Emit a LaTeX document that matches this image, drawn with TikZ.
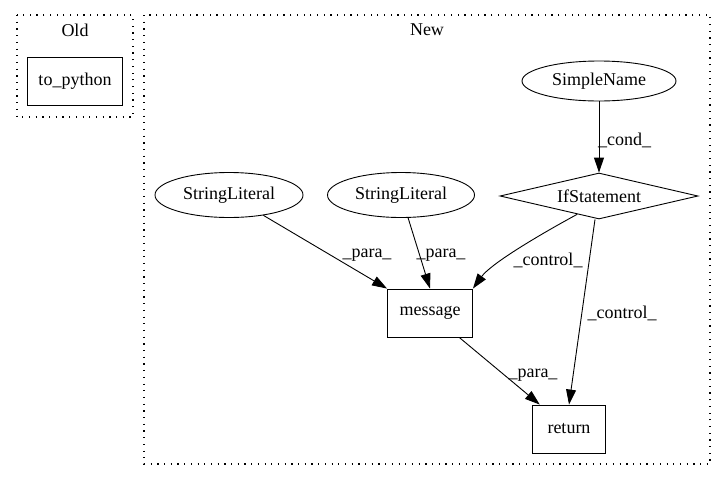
\documentclass[tikz,border=0pt]{standalone}
\usepackage{fontspec}
\setmainfont{Liberation Serif}
\usetikzlibrary{shapes.geometric,arrows.meta}
\begin{document}
\begin{tikzpicture}[x=1pt,y=-1pt,
  every node/.style={font=\fontsize{18}{20}\selectfont},
  cluster/.style={draw, line width=1.2pt, dash pattern=on 1.2pt off 5.5pt},
  boxnode/.style={draw, line width=0.9pt, rectangle, inner sep=0pt},
  ell/.style={draw, line width=0.9pt, ellipse, inner sep=0pt},
  dia/.style={draw, line width=0.9pt, diamond, aspect=4.3, inner sep=0pt, minimum width=198pt, minimum height=46pt},
  edge/.style={draw, line width=0.9pt, -{Triangle[length=15pt,width=10pt]}},
  lbl/.style={inner sep=0pt}]
\useasboundingbox (0,0) rectangle (724,480);
% clusters
\draw[cluster] (17,15) rectangle (133,117);
\node[lbl] (oldlbl) at (75,30) {Old};
\draw[cluster] (144,15) rectangle (710,464);
\node[lbl] (newlbl) at (427,30) {New};
% nodes
\node[boxnode, minimum width=95pt, minimum height=48pt] (topy) at (75,81) {to\_python};
\node[ell, minimum width=154pt, minimum height=40pt] (sn) at (599,81) {SimpleName};
\node[dia] (if) at (599,196) {IfStatement};
\node[ell, minimum width=148pt, minimum height=45pt] (sl1) at (229,195) {StringLiteral};
\node[ell, minimum width=147pt, minimum height=45pt] (sl2) at (401,195) {StringLiteral};
\node[boxnode, minimum width=85pt, minimum height=48pt] (msg) at (430,313) {message};
\node[boxnode, minimum width=73pt, minimum height=48pt] (ret) at (569,429) {return};
% edges
\draw[edge] (sn) -- (if);
\node[lbl, anchor=west] (l1) at (598,140) {\_cond\_};
\draw[edge] (sl1) -- (msg.north west);
\node[lbl] (l2) at (367,255) {\_para\_};
\draw[edge] (sl2) -- (msg.north);
\node[lbl] (l3) at (441,255) {\_para\_};
\draw[edge] (if.220) .. controls (530,240) and (490,265) .. (msg.north east);
\node[lbl] (l4) at (548,260) {\_control\_};
\draw[edge] (if.south) ++(-4,0) coordinate (ifs) (ifs) -- (ret.north);
\node[lbl] (l5) at (622,313) {\_control\_};
\draw[edge] (msg) -- (ret);
\node[lbl] (l6) at (533,375) {\_para\_};
\end{tikzpicture}
\end{document}
